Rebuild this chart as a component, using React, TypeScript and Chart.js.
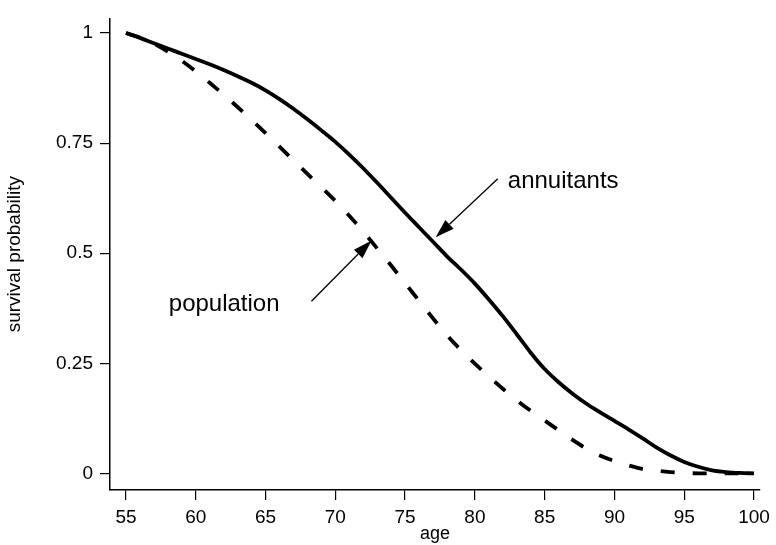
import React, { useEffect, useRef } from "react";
import { Chart, registerables } from "chart.js";

Chart.register(...registerables);

// ---- data ----
const ages = [
  55, 56, 57, 58, 59, 60, 61, 62, 63, 64, 65, 66, 67, 68, 69, 70, 71, 72, 73, 74, 75, 76, 77,
  78, 79, 80, 81, 82, 83, 84, 85, 86, 87, 88, 89, 90, 91, 92, 93, 94, 95, 96, 97, 98, 99, 100,
];
const annuitants = [
  1.0, 0.989, 0.977, 0.965, 0.953, 0.941, 0.929, 0.916, 0.902, 0.887, 0.87, 0.85, 0.828,
  0.804, 0.779, 0.753, 0.724, 0.693, 0.66, 0.626, 0.592, 0.559, 0.526, 0.493, 0.463, 0.431,
  0.395, 0.357, 0.316, 0.274, 0.237, 0.207, 0.181, 0.158, 0.138, 0.119, 0.1, 0.08, 0.059,
  0.041, 0.026, 0.015, 0.007, 0.003, 0.001, 0.0,
];
const population = [
  1.0, 0.99, 0.976, 0.958, 0.937, 0.913, 0.887, 0.86, 0.832, 0.803, 0.773, 0.742, 0.711,
  0.68, 0.65, 0.619, 0.585, 0.549, 0.511, 0.472, 0.432, 0.392, 0.352, 0.314, 0.28, 0.249,
  0.22, 0.192, 0.166, 0.142, 0.12, 0.098, 0.076, 0.056, 0.04, 0.028, 0.018, 0.01, 0.006,
  0.003, 0.001, 0.0, 0.0, 0.0, 0.0, 0.0,
];
const seriesNames = ["annuitants", "population"];
const xTicks = [55, 60, 65, 70, 75, 80, 85, 90, 95, 100];
const yTicks = [0, 0.25, 0.5, 0.75, 1];
const xTitle = "age";
const yTitle = "survival probability";

// annotation anchors, in data units (age, probability)
const labelAt = [
  [82.36, 0.649],
  [58.07, 0.369],
];
const arrowFrom = [
  [81.64, 0.669],
  [68.29, 0.391],
];
const arrowTo = [
  [77.19, 0.536],
  [72.6, 0.529],
];

const FONT = "'Liberation Sans', Arial, Helvetica, sans-serif";

const annotationPlugin = {
  id: "arrowLabels",
  afterDatasetsDraw(chart: any) {
    const { ctx, scales } = chart;
    const xs = scales.x;
    const ys = scales.y;
    ctx.save();
    ctx.fillStyle = "#000";
    ctx.strokeStyle = "#000";
    ctx.font = `24px ${FONT}`;
    ctx.textAlign = "left";
    ctx.textBaseline = "alphabetic";
    seriesNames.forEach((name, i) => {
      ctx.fillText(name, xs.getPixelForValue(labelAt[i][0]), ys.getPixelForValue(labelAt[i][1]));
      const x0 = xs.getPixelForValue(arrowFrom[i][0]);
      const y0 = ys.getPixelForValue(arrowFrom[i][1]);
      const x1 = xs.getPixelForValue(arrowTo[i][0]);
      const y1 = ys.getPixelForValue(arrowTo[i][1]);
      const ang = Math.atan2(y1 - y0, x1 - x0);
      const headLen = 19;
      const headHalf = 6;
      const bx = x1 - headLen * Math.cos(ang);
      const by = y1 - headLen * Math.sin(ang);
      ctx.lineWidth = 1.3;
      ctx.beginPath();
      ctx.moveTo(x0, y0);
      ctx.lineTo(bx, by);
      ctx.stroke();
      ctx.beginPath();
      ctx.moveTo(x1, y1);
      ctx.lineTo(bx + headHalf * Math.sin(ang), by - headHalf * Math.cos(ang));
      ctx.lineTo(bx - headHalf * Math.sin(ang), by + headHalf * Math.cos(ang));
      ctx.closePath();
      ctx.fill();
    });
    ctx.restore();
  },
};

export default function App() {
  const ref = useRef<HTMLCanvasElement | null>(null);

  useEffect(() => {
    if (!ref.current) return;
    const chart = new Chart(ref.current, {
      type: "line",
      data: {
        datasets: [
          {
            label: seriesNames[0],
            data: ages.map((a, i) => ({ x: a, y: annuitants[i] })),
            borderColor: "#000",
            borderWidth: 3.8,
            pointRadius: 0,
            cubicInterpolationMode: "monotone",
            fill: false,
          },
          {
            label: seriesNames[1],
            data: ages.map((a, i) => ({ x: a, y: population[i] })),
            borderColor: "#000",
            borderWidth: 3.8,
            borderDash: [14, 18],
            pointRadius: 0,
            cubicInterpolationMode: "monotone",
            fill: false,
          },
        ],
      },
      options: {
        animation: false,
        responsive: true,
        maintainAspectRatio: false,
        layout: { padding: { top: 8, right: 14, left: 0, bottom: 0 } },
        plugins: {
          legend: { display: false },
          tooltip: { enabled: false },
        },
        scales: {
          x: {
            type: "linear",
            min: 53.857,
            max: 100.43,
            afterBuildTicks: (s: any) => {
              s.ticks = xTicks.map((v) => ({ value: v }));
            },
            afterFit: (s: any) => {
              s.height = 55;
            },
            grid: {
              drawOnChartArea: false,
              drawTicks: true,
              tickLength: 10,
              color: "#000",
              lineWidth: 1.2,
            },
            border: { display: true, color: "#000", width: 1.5 },
            ticks: {
              color: "#000",
              font: { family: FONT, size: 19 },
              padding: 6,
              maxRotation: 0,
              autoSkip: false,
              callback: (v: any) => String(v),
            },
            title: {
              display: true,
              text: xTitle,
              color: "#000",
              font: { family: FONT, size: 18 },
              padding: 0,
            },
          },
          y: {
            type: "linear",
            min: -0.0378,
            max: 1.0333,
            afterBuildTicks: (s: any) => {
              s.ticks = yTicks.map((v) => ({ value: v }));
            },
            afterFit: (s: any) => {
              s.width = 110;
            },
            grid: {
              drawOnChartArea: false,
              drawTicks: true,
              tickLength: 10,
              color: "#000",
              lineWidth: 1.2,
            },
            border: { display: true, color: "#000", width: 1.5 },
            ticks: {
              color: "#000",
              font: { family: FONT, size: 19 },
              padding: 7,
              autoSkip: false,
              callback: (v: any) => String(v),
            },
            title: {
              display: true,
              text: yTitle,
              color: "#000",
              font: { family: FONT, size: 19 },
              padding: { top: 3, bottom: 0 },
            },
          },
        },
      },
      plugins: [annotationPlugin],
    } as any);
    return () => chart.destroy();
  }, []);

  return (
    <div style={{ position: "fixed", left: 0, top: 0, width: 776, height: 545, background: "#fff" }}>
      <canvas ref={ref} />
    </div>
  );
}
